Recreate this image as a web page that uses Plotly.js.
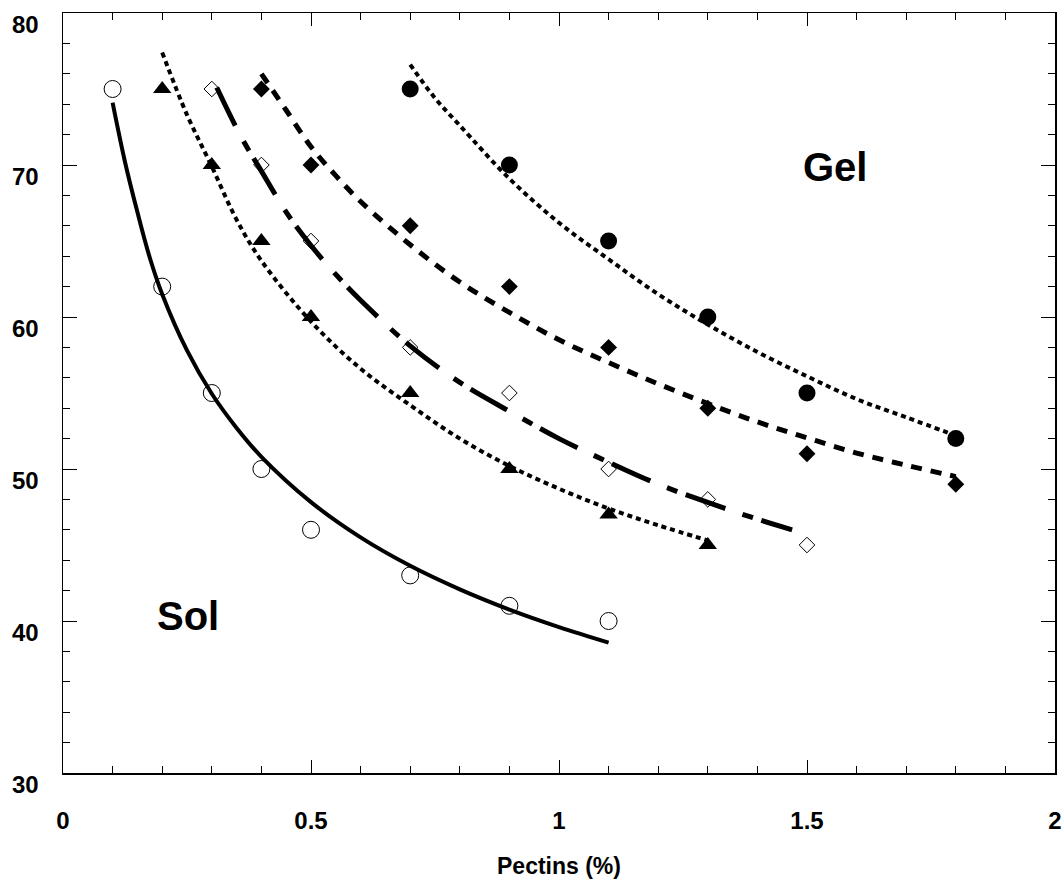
<!DOCTYPE html>
<html>
<head>
<meta charset="utf-8">
<script src="https://cdn.plot.ly/plotly-3.0.1.min.js"></script>
<style>html,body{margin:0;padding:0;background:#fff;}#chart{width:1064px;height:879px;}</style>
</head>
<body>
<div id="chart"></div>
<script>
// Measured points
const pectinA = [0.1, 0.2, 0.3, 0.4, 0.5, 0.7, 0.9, 1.1];          // open circles
const valueA  = [75, 62, 55, 50, 46, 43, 41, 40];
const pectinB = [0.2, 0.3, 0.4, 0.5, 0.7, 0.9, 1.1, 1.3];          // filled triangles
const valueB  = [75, 70, 65, 60, 55, 50, 47, 45];
const pectinC = [0.3, 0.4, 0.5, 0.7, 0.9, 1.1, 1.3, 1.5];          // open diamonds
const valueC  = [75, 70, 65, 58, 55, 50, 48, 45];
const pectinD = [0.4, 0.5, 0.7, 0.9, 1.1, 1.3, 1.5, 1.8];          // filled diamonds
const valueD  = [75, 70, 66, 62, 58, 54, 51, 49];
const pectinE = [0.7, 0.9, 1.1, 1.3, 1.5, 1.8];                    // filled circles
const valueE  = [75, 70, 65, 60, 55, 52];

// Fitted curves
const fitAx = [0.1, 0.125, 0.15, 0.175, 0.2, 0.25, 0.3, 0.35, 0.4, 0.5, 0.6, 0.7, 0.8, 0.9, 1.0, 1.1];
const fitAy = [74.1, 70.2, 66.9, 63.9, 61.5, 57.8, 54.95, 52.7, 50.8, 47.82, 45.5, 43.63, 42.08, 40.75, 39.6, 38.58];
const fitBx = [0.2, 0.25, 0.3, 0.35, 0.4, 0.5, 0.6, 0.7, 0.8, 0.9, 1.0, 1.1, 1.2, 1.3];
const fitBy = [77.4, 73.3, 69.9, 66.4, 63.7, 59.7, 56.6, 54.2, 52.0, 50.2, 48.7, 47.4, 46.3, 45.3];
const fitCx = [0.31, 0.36, 0.4, 0.45, 0.5, 0.55, 0.6, 0.7, 0.8, 0.9, 1.0, 1.1, 1.2, 1.3, 1.4, 1.47];
const fitCy = [75.1, 71.8, 69.6, 66.9, 64.7, 62.8, 61.1, 58.1, 55.7, 53.8, 52.0, 50.45, 49.0, 47.8, 46.7, 46.0];
const fitDx = [0.4, 0.45, 0.5, 0.55, 0.6, 0.7, 0.8, 0.9, 1.0, 1.1, 1.2, 1.3, 1.4, 1.5, 1.6, 1.7, 1.8];
const fitDy = [76.0, 73.6, 71.2, 69.3, 67.6, 64.75, 62.3, 60.3, 58.5, 57.0, 55.6, 54.3, 53.1, 52.05, 51.05, 50.25, 49.5];
const fitEx = [0.7, 0.75, 0.8, 0.9, 1.0, 1.1, 1.2, 1.3, 1.4, 1.5, 1.6, 1.7, 1.8];
const fitEy = [76.6, 74.4, 72.6, 69.1, 66.2, 63.8, 61.5, 59.5, 57.7, 56.1, 54.6, 53.4, 52.2];

const xTickVals = [0, 0.5, 1, 1.5, 2];
const xTickText = ['0', '0.5', '1', '1.5', '2'];
const yTickVals = [30, 40, 50, 60, 70, 80];
const yTickText = ['30', '40', '50', '60', '70', '80'];

const regionLabels = ['Sol', 'Gel'];
const regionX = [0.252, 1.556];
const regionY = [40.3, 69.9];

const FONT = 'Liberation Sans, Arial, sans-serif';

function pts(x, y, symbol, size, lw) {
  return {x: x, y: y, type: 'scatter', mode: 'markers', showlegend: false, hoverinfo: 'skip',
    marker: {symbol: symbol, size: size, color: '#000', line: {color: '#000', width: lw}}};
}
function curve(x, y, width, dash) {
  return {x: x, y: y, type: 'scatter', mode: 'lines', showlegend: false, hoverinfo: 'skip',
    line: {color: '#000', width: width, dash: dash, shape: 'spline', smoothing: 1}};
}

const data = [
  pts(pectinA, valueA, 'circle-open', 17, 1),
  pts(pectinB, valueB, 'triangle-up', 16, 0),
  pts(pectinC, valueC, 'diamond-open', 12, 1),
  pts(pectinD, valueD, 'diamond', 13, 0),
  pts(pectinE, valueE, 'circle', 17, 0),
  curve(fitAx, fitAy, 4, 'solid'),
  curve(fitBx, fitBy, 4, '5px,4px'),
  curve(fitCx, fitCy, 5, '42px,18px,11px,9px'),
  curve(fitDx, fitDy, 5, '11px,9px'),
  curve(fitEx, fitEy, 4, '5px,4px')
];

const axisCommon = {
  showgrid: false, zeroline: false, showline: true, linecolor: '#000', linewidth: 1.5,
  mirror: 'allticks', ticks: 'inside', tickcolor: '#000', tickwidth: 1,
  ticklabeloverflow: 'allow',
  tickfont: {family: FONT, size: 24, color: '#000', weight: 'bold'}
};

const layout = {
  width: 1064, height: 879,
  margin: {l: 63, r: 9, t: 13, b: 106, pad: 0},
  paper_bgcolor: '#fff', plot_bgcolor: '#fff',
  font: {family: FONT, color: '#000'},
  xaxis: Object.assign({}, axisCommon, {
    range: [0, 2], tickmode: 'array', tickvals: xTickVals, ticktext: xTickText,
    ticklen: 13, ticklabelstandoff: 26,
    minor: {dtick: 0.1, tick0: 0, ticklen: 7, ticks: 'inside', tickcolor: '#000', tickwidth: 1},
    title: {text: 'Pectins (%)', font: {family: FONT, size: 23, color: '#000', weight: 'bold'}, standoff: 24}
  }),
  yaxis: Object.assign({}, axisCommon, {
    range: [30, 80], tickmode: 'array', tickvals: yTickVals, ticktext: yTickText,
    ticklen: 14, ticklabelstandoff: 18, ticklabelshift: 12,
    minor: {dtick: 2, tick0: 30, ticklen: 7, ticks: 'inside', tickcolor: '#000', tickwidth: 1}
  }),
  annotations: regionLabels.map((t, i) => ({
    x: regionX[i], y: regionY[i], xref: 'x', yref: 'y', text: t, showarrow: false,
    font: {family: FONT, size: 40, color: '#000', weight: 'bold'}
  }))
};

Plotly.newPlot('chart', data, layout, {staticPlot: true, displayModeBar: false});
</script>
</body>
</html>
